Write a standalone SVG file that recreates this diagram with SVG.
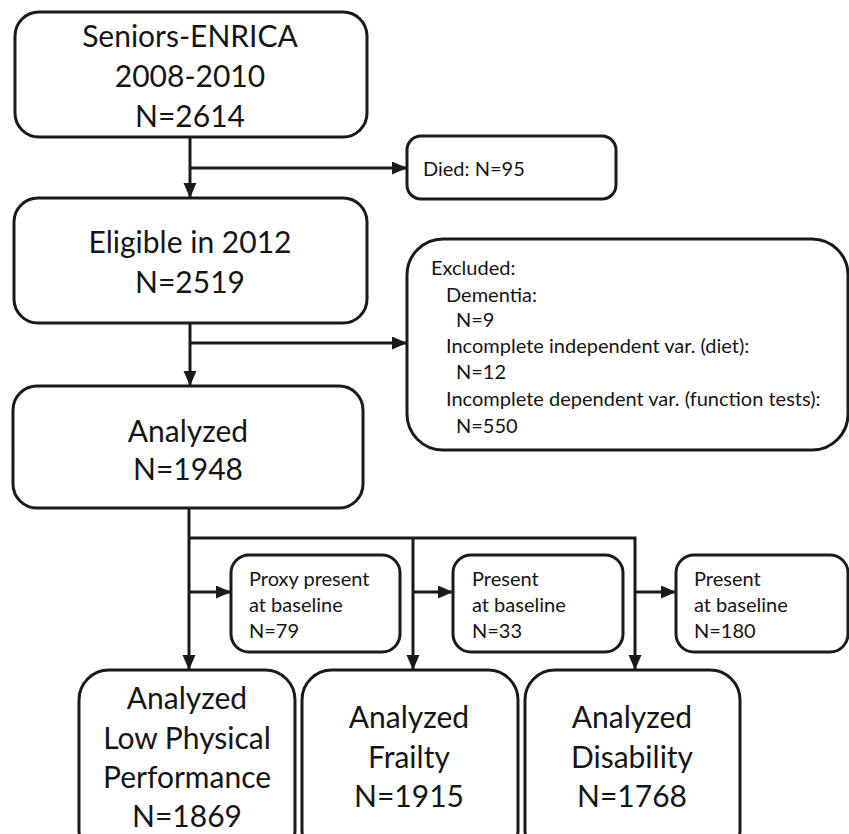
<svg xmlns="http://www.w3.org/2000/svg" width="849" height="834" viewBox="0 0 849 834">
<defs>
<style>
.box{fill:#fff;stroke:#1a1a1a;stroke-width:3}
.big{font-family:Lato,"Open Sans","DejaVu Sans",sans-serif;font-size:30px;fill:#151515;text-anchor:middle}
.sm{font-family:Lato,"Open Sans","DejaVu Sans",sans-serif;font-size:20px;fill:#151515}
.ln{fill:none;stroke:#1a1a1a;stroke-width:3}
</style>
<marker id="ah" markerUnits="userSpaceOnUse" markerWidth="16" markerHeight="14" refX="15" refY="6.5" orient="auto">
<path d="M0,0 L15,6.5 L0,13 z" fill="#1a1a1a"/>
</marker>
</defs>
<rect width="849" height="834" fill="#fff"/>
<g id="connectors">
<line class="ln" x1="190" y1="137" x2="190" y2="198" marker-end="url(#ah)"/>
<line class="ln" x1="190" y1="168" x2="407" y2="168" marker-end="url(#ah)"/>
<line class="ln" x1="190" y1="323" x2="190" y2="386" marker-end="url(#ah)"/>
<line class="ln" x1="190" y1="343" x2="407" y2="343" marker-end="url(#ah)"/>
<line class="ln" x1="189" y1="508" x2="189" y2="670" marker-end="url(#ah)"/>
<polyline class="ln" points="189,538 635,538 635,670" marker-end="url(#ah)"/>
<line class="ln" x1="413" y1="538" x2="413" y2="670" marker-end="url(#ah)"/>
<line class="ln" x1="189" y1="592" x2="231" y2="592" marker-end="url(#ah)"/>
<line class="ln" x1="413" y1="592" x2="453" y2="592" marker-end="url(#ah)"/>
<line class="ln" x1="635" y1="592" x2="676" y2="592" marker-end="url(#ah)"/>
</g>
<g id="n-seniors">
<rect class="box" x="15" y="12" width="352" height="125" rx="24"/>
<text class="big" x="190" y="47">Seniors-ENRICA</text>
<text class="big" x="190" y="87">2008-2010</text>
<text class="big" x="190" y="127">N=2614</text>
</g>
<g id="n-died">
<rect class="box" x="407" y="136" width="209" height="63" rx="14"/>
<text class="sm" x="423" y="176">Died: N=95</text>
</g>
<g id="n-eligible">
<rect class="box" x="14" y="198" width="353" height="125" rx="24"/>
<text class="big" x="190" y="253">Eligible in 2012</text>
<text class="big" x="190" y="293">N=2519</text>
</g>
<g id="n-excluded">
<rect class="box" x="407" y="239" width="441" height="211" rx="36"/>
<text class="sm" x="431" y="275">Excluded:</text>
<text class="sm" x="446" y="302">Dementia:</text>
<text class="sm" x="456" y="327">N=9</text>
<text class="sm" x="446" y="353">Incomplete independent var. (diet):</text>
<text class="sm" x="456" y="379">N=12</text>
<text class="sm" x="446" y="406">Incomplete dependent var. (function tests):</text>
<text class="sm" x="456" y="433">N=550</text>
</g>
<g id="n-analyzed">
<rect class="box" x="13" y="386" width="350" height="122" rx="24"/>
<text class="big" x="188" y="442">Analyzed</text>
<text class="big" x="188" y="480">N=1948</text>
</g>
<g id="n-proxy">
<rect class="box" x="231" y="555" width="169" height="97" rx="18"/>
<text class="sm" x="249" y="586">Proxy present</text>
<text class="sm" x="249" y="612">at baseline</text>
<text class="sm" x="249" y="638">N=79</text>
</g>
<g id="n-present1">
<rect class="box" x="453" y="555" width="170" height="97" rx="18"/>
<text class="sm" x="472" y="586">Present</text>
<text class="sm" x="472" y="612">at baseline</text>
<text class="sm" x="472" y="638">N=33</text>
</g>
<g id="n-present2">
<rect class="box" x="676" y="555" width="172" height="97" rx="18"/>
<text class="sm" x="694" y="586">Present</text>
<text class="sm" x="694" y="612">at baseline</text>
<text class="sm" x="694" y="638">N=180</text>
</g>
<g id="n-lpp">
<rect class="box" x="79" y="670" width="216" height="190" rx="30"/>
<text class="big" x="187" y="709">Analyzed</text>
<text class="big" x="187" y="749">Low Physical</text>
<text class="big" x="187" y="788">Performance</text>
<text class="big" x="187" y="827">N=1869</text>
</g>
<g id="n-frailty">
<rect class="box" x="302" y="670" width="216" height="190" rx="30"/>
<text class="big" x="409" y="728">Analyzed</text>
<text class="big" x="409" y="768">Frailty</text>
<text class="big" x="409" y="807">N=1915</text>
</g>
<g id="n-disability">
<rect class="box" x="525" y="670" width="215" height="190" rx="30"/>
<text class="big" x="632" y="728">Analyzed</text>
<text class="big" x="632" y="768">Disability</text>
<text class="big" x="632" y="807">N=1768</text>
</g>
</svg>
